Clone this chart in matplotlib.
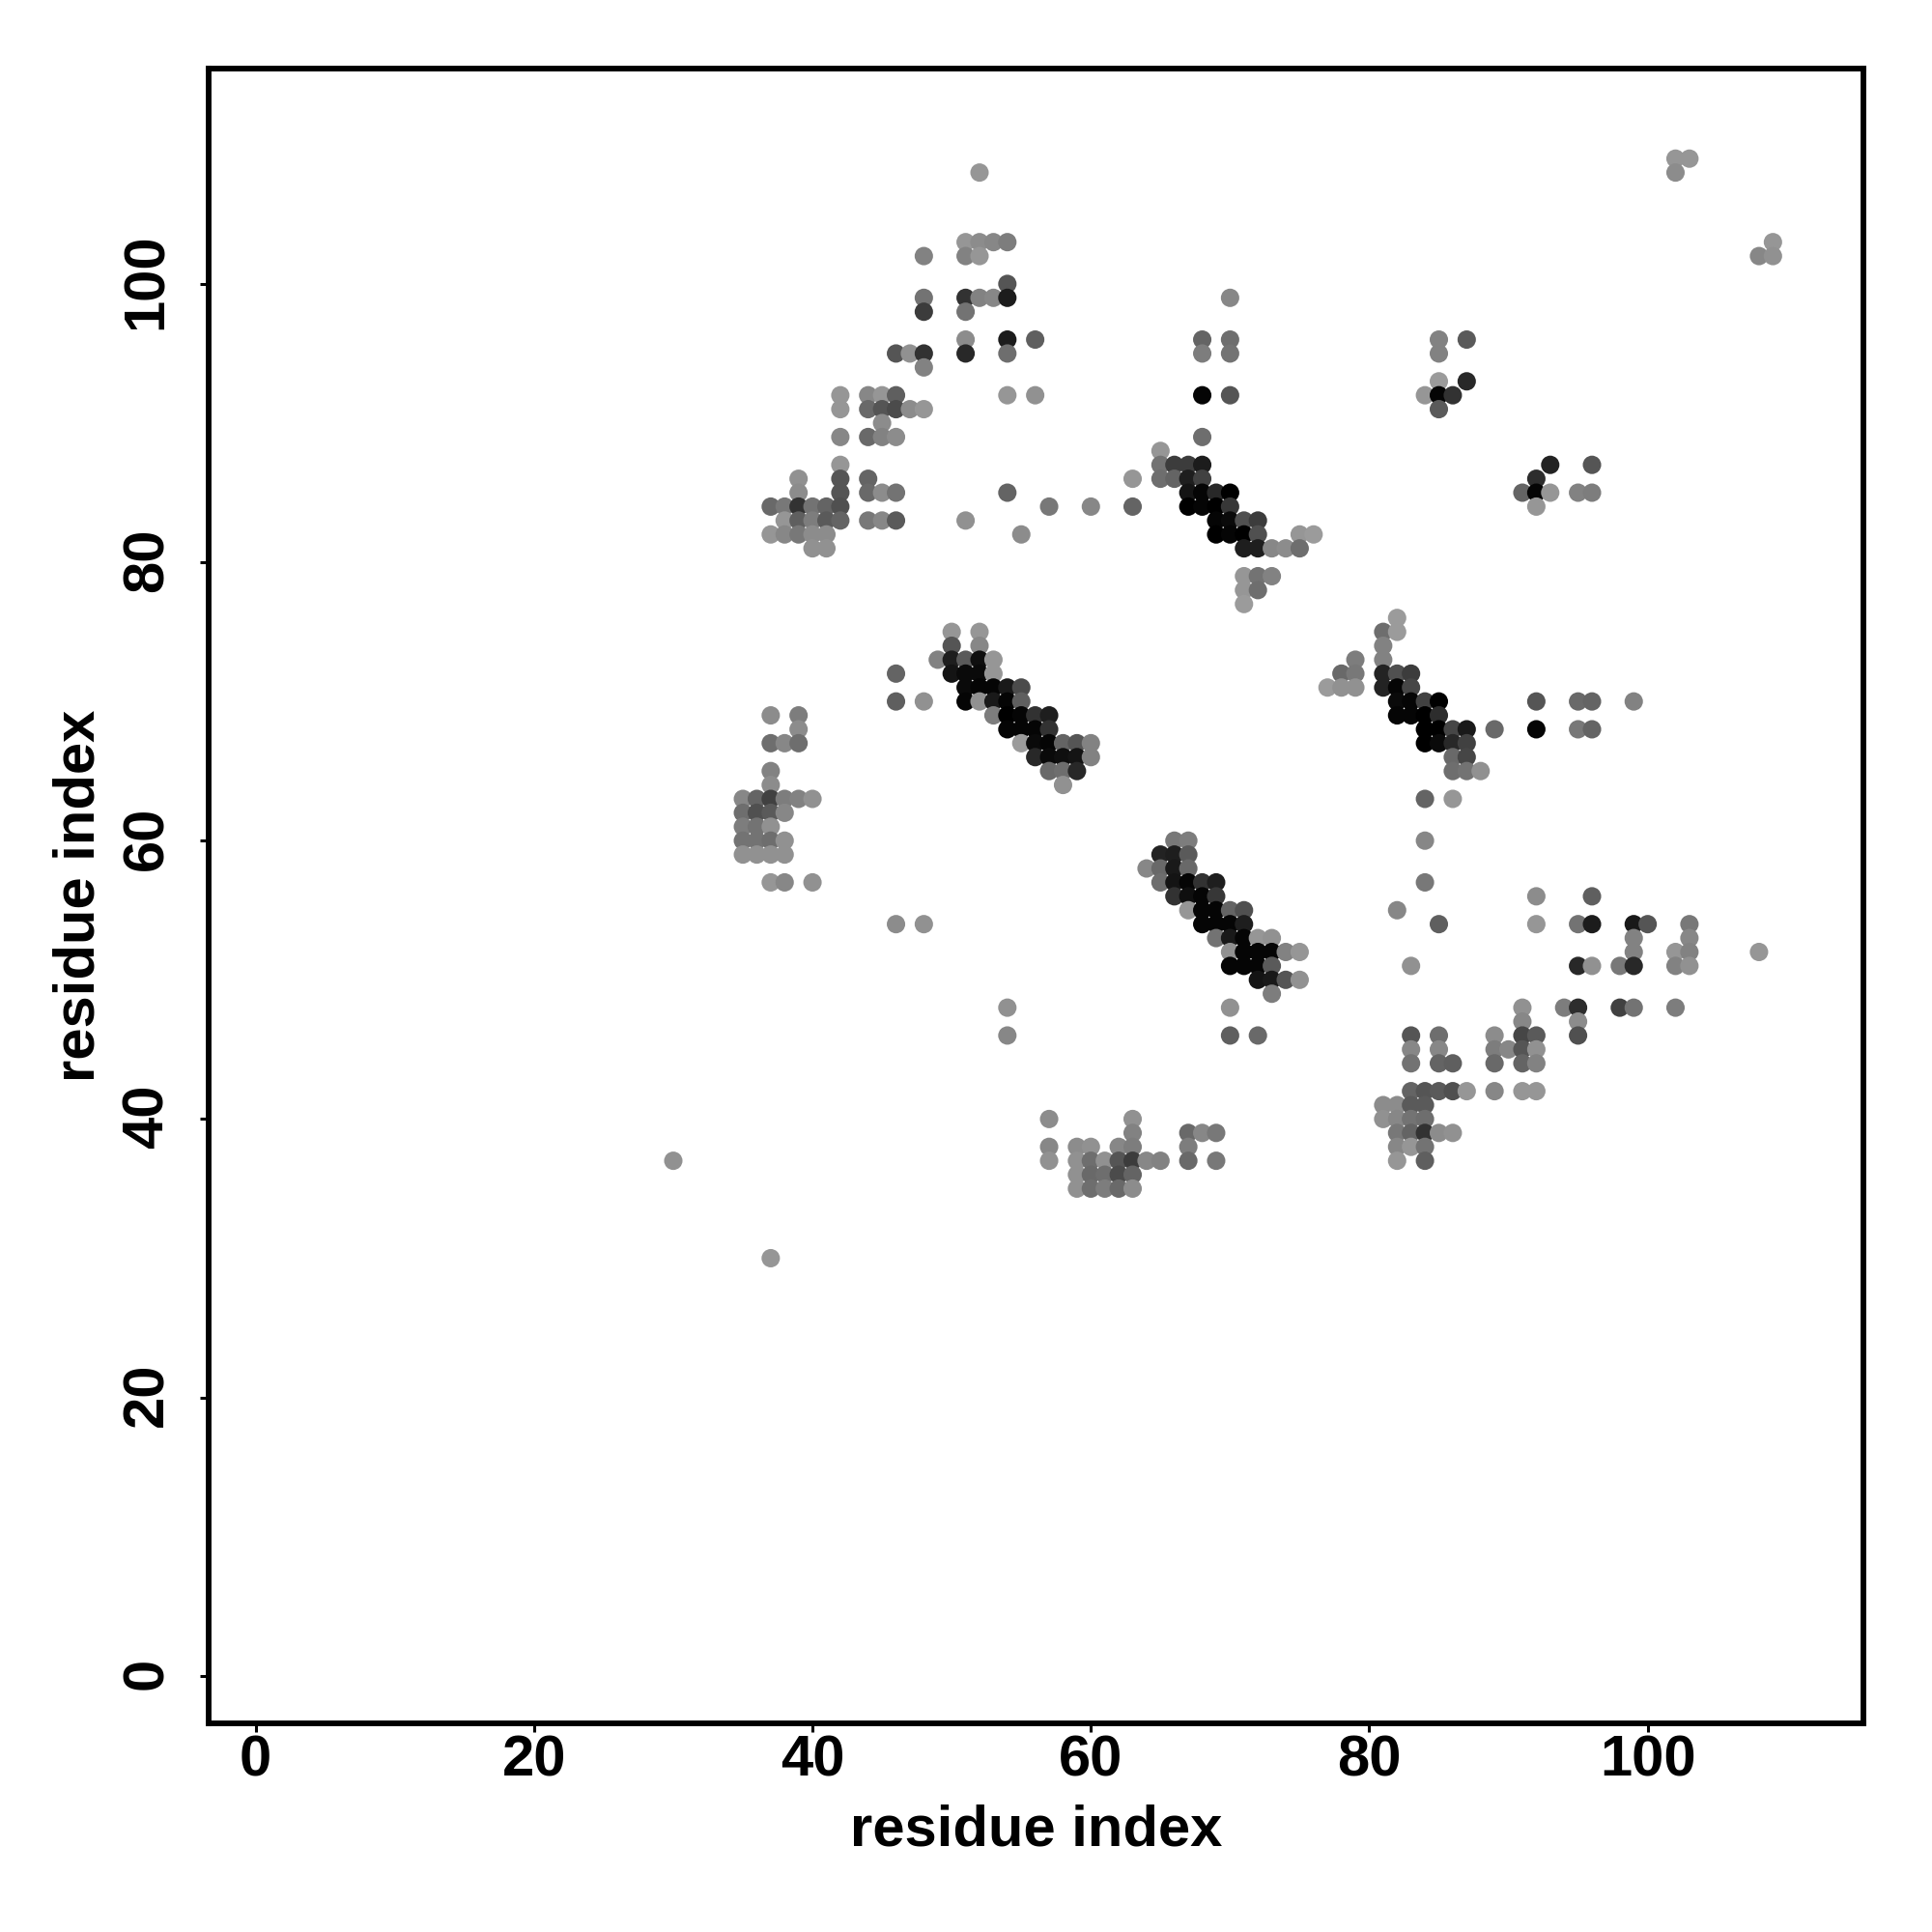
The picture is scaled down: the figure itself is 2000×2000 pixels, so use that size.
import matplotlib
matplotlib.use("Agg")
import matplotlib.pyplot as plt
from matplotlib.transforms import ScaledTranslation

plt.rcParams['font.family'] = ['Liberation Sans', 'DejaVu Sans']
plt.rcParams['font.weight'] = 'bold'

# contacts, one line per residue row (top of the map first)
res_x = [
    52,
    102, 103,
    102,
    51, 52, 53, 54, 109,
    48, 51, 52, 108, 109,
    54,
    48, 51, 52, 53, 54, 70,
    48, 51,
    51, 54, 56, 68, 70, 85, 87,
    46, 47, 48, 51, 54, 68, 70, 85,
    48,
    85, 87,
    42, 44, 45, 46, 54, 56, 68, 70, 84, 85, 86,
    42, 44, 45, 46, 47, 48, 85,
    45,
    42, 44, 45, 46, 68,
    65,
    42, 65, 66, 67, 68, 93, 96,
    39, 42, 44, 63, 65, 66, 67, 68, 92,
    39, 42, 44, 45, 46, 54, 67, 68, 69, 70, 91, 92, 93, 95, 96,
    37, 38, 39, 40, 41, 42, 57, 60, 63, 67, 68, 69, 70, 92,
    38, 39, 40, 41, 42, 44, 45, 46, 51, 69, 70, 71, 72,
    37, 38, 39, 40, 41, 55, 69, 70, 71, 72, 75, 76,
    40, 41, 71, 72, 73, 74, 75,
    71, 72, 73,
    71, 72,
    71,
    82,
    50, 52, 81, 82,
    50, 52, 81,
    49, 50, 51, 52, 53, 79, 81,
    46, 50, 51, 52, 53, 78, 79, 81, 82, 83,
    51, 52, 53, 54, 55, 77, 78, 79, 81, 82, 83,
    46, 48, 51, 52, 53, 54, 55, 82, 83, 84, 85, 92, 95, 96, 99,
    37, 39, 53, 54, 55, 56, 57, 82, 83, 84, 85,
    39, 54, 55, 56, 57, 84, 85, 86, 87, 89, 92, 95, 96,
    37, 38, 39, 55, 56, 57, 58, 59, 60, 84, 85, 86, 87,
    56, 57, 58, 59, 60, 86, 87,
    37, 57, 58, 59, 86, 87, 88,
    37, 58,
    35, 36, 37, 38, 39, 40, 84, 86,
    35, 36, 37, 38,
    35, 36, 37,
    35, 36, 37, 38, 66, 67, 84,
    35, 36, 37, 38, 65, 66, 67,
    64, 65, 66, 67,
    37, 38, 40, 65, 66, 67, 68, 69, 84,
    66, 67, 68, 69, 92, 96,
    67, 68, 69, 70, 71, 82,
    46, 48, 68, 69, 70, 71, 85, 92, 95, 96, 99, 100, 103,
    69, 70, 71, 72, 73, 99, 103,
    70, 71, 72, 73, 74, 75, 99, 102, 103, 108,
    70, 71, 72, 73, 83, 95, 96, 98, 99, 102, 103,
    72, 73, 74, 75,
    73,
    54, 70, 91, 94, 95, 98, 99, 102,
    91, 95,
    54, 70, 72, 83, 85, 89, 91, 92, 95,
    83, 85, 89, 90, 91, 92,
    83, 85, 86, 89, 91, 92,
    83, 84, 85, 86, 87, 89, 91, 92,
    81, 82, 83, 84,
    57, 63, 81, 82, 83, 84,
    63, 67, 68, 69, 82, 83, 84, 85, 86,
    57, 59, 60, 62, 63, 67, 82, 83, 84,
    30, 57, 59, 60, 61, 62, 63, 64, 65, 67, 69, 82, 84,
    59, 60, 61, 62, 63,
    59, 60, 61, 62, 63,
    37,
]

res_y = [
    108,
    109, 109,
    108,
    103, 103, 103, 103, 103,
    102, 102, 102, 102, 102,
    100,
    99, 99, 99, 99, 99, 99,
    98, 98,
    96, 96, 96, 96, 96, 96, 96,
    95, 95, 95, 95, 95, 95, 95, 95,
    94,
    93, 93,
    92, 92, 92, 92, 92, 92, 92, 92, 92, 92, 92,
    91, 91, 91, 91, 91, 91, 91,
    90,
    89, 89, 89, 89, 89,
    88,
    87, 87, 87, 87, 87, 87, 87,
    86, 86, 86, 86, 86, 86, 86, 86, 86,
    85, 85, 85, 85, 85, 85, 85, 85, 85, 85, 85, 85, 85, 85, 85,
    84, 84, 84, 84, 84, 84, 84, 84, 84, 84, 84, 84, 84, 84,
    83, 83, 83, 83, 83, 83, 83, 83, 83, 83, 83, 83, 83,
    82, 82, 82, 82, 82, 82, 82, 82, 82, 82, 82, 82,
    81, 81, 81, 81, 81, 81, 81,
    79, 79, 79,
    78, 78,
    77,
    76,
    75, 75, 75, 75,
    74, 74, 74,
    73, 73, 73, 73, 73, 73, 73,
    72, 72, 72, 72, 72, 72, 72, 72, 72, 72,
    71, 71, 71, 71, 71, 71, 71, 71, 71, 71, 71,
    70, 70, 70, 70, 70, 70, 70, 70, 70, 70, 70, 70, 70, 70, 70,
    69, 69, 69, 69, 69, 69, 69, 69, 69, 69, 69,
    68, 68, 68, 68, 68, 68, 68, 68, 68, 68, 68, 68, 68,
    67, 67, 67, 67, 67, 67, 67, 67, 67, 67, 67, 67, 67,
    66, 66, 66, 66, 66, 66, 66,
    65, 65, 65, 65, 65, 65, 65,
    64, 64,
    63, 63, 63, 63, 63, 63, 63, 63,
    62, 62, 62, 62,
    61, 61, 61,
    60, 60, 60, 60, 60, 60, 60,
    59, 59, 59, 59, 59, 59, 59,
    58, 58, 58, 58,
    57, 57, 57, 57, 57, 57, 57, 57, 57,
    56, 56, 56, 56, 56, 56,
    55, 55, 55, 55, 55, 55,
    54, 54, 54, 54, 54, 54, 54, 54, 54, 54, 54, 54, 54,
    53, 53, 53, 53, 53, 53, 53,
    52, 52, 52, 52, 52, 52, 52, 52, 52, 52,
    51, 51, 51, 51, 51, 51, 51, 51, 51, 51, 51,
    50, 50, 50, 50,
    49,
    48, 48, 48, 48, 48, 48, 48, 48,
    47, 47,
    46, 46, 46, 46, 46, 46, 46, 46, 46,
    45, 45, 45, 45, 45, 45,
    44, 44, 44, 44, 44, 44,
    42, 42, 42, 42, 42, 42, 42, 42,
    41, 41, 41, 41,
    40, 40, 40, 40, 40, 40,
    39, 39, 39, 39, 39, 39, 39, 39, 39,
    38, 38, 38, 38, 38, 38, 38, 38, 38,
    37, 37, 37, 37, 37, 37, 37, 37, 37, 37, 37, 37, 37,
    36, 36, 36, 36, 36,
    35, 35, 35, 35, 35,
    30,
]

# grey level of each contact, 0 black to 255 white
grey_level = [
    150,
    150, 150,
    140,
    150, 140, 135, 125, 150,
    130, 130, 150, 135, 145,
    85,
    115, 50, 130, 135, 28, 135,
    60, 115,
    140, 28, 95, 100, 110, 130, 90,
    85, 145, 50, 40, 110, 125, 115, 130,
    130,
    155, 40,
    150, 135, 150, 95, 150, 145, 5, 85, 150, 5, 50,
    150, 105, 85, 75, 140, 150, 90,
    140,
    135, 105, 130, 140, 110,
    150,
    150, 115, 60, 60, 28, 35, 85,
    145, 85, 100, 150, 110, 100, 30, 65, 45,
    140, 85, 105, 140, 115, 100, 20, 5, 40, 0, 100, 5, 150, 130, 125,
    105, 120, 50, 115, 100, 80, 120, 135, 100, 0, 5, 0, 55, 150,
    150, 95, 125, 90, 100, 120, 135, 90, 145, 5, 10, 80, 60,
    150, 135, 120, 140, 140, 140, 0, 5, 0, 80, 150, 155,
    145, 145, 30, 30, 135, 140, 110,
    150, 115, 130,
    150, 110,
    155,
    155,
    150, 150, 110, 155,
    85, 135, 130,
    130, 30, 90, 15, 150, 125, 130,
    100, 20, 10, 10, 150, 105, 120, 35, 80, 60,
    10, 5, 5, 25, 75, 155, 145, 145, 35, 5, 70,
    95, 145, 5, 145, 25, 5, 95, 10, 5, 65, 0, 85, 105, 100, 130,
    140, 125, 125, 0, 5, 50, 30, 5, 5, 0, 45,
    140, 5, 5, 5, 50, 0, 0, 70, 25, 105, 5, 120, 100,
    110, 135, 110, 155, 10, 5, 100, 85, 130, 0, 10, 40, 65,
    40, 10, 15, 20, 130, 105, 70,
    130, 105, 110, 40, 110, 115, 145,
    140, 145,
    135, 100, 65, 125, 130, 145, 100, 150,
    110, 80, 90, 135,
    125, 115, 145,
    115, 115, 110, 145, 120, 125, 135,
    145, 145, 145, 145, 35, 30, 90,
    135, 105, 25, 105,
    150, 135, 145, 110, 20, 5, 50, 30, 120,
    50, 15, 5, 55, 140, 95,
    150, 5, 5, 100, 80, 135,
    140, 145, 5, 5, 5, 30, 95, 150, 115, 28, 25, 85, 120,
    115, 25, 5, 150, 145, 130, 135,
    145, 5, 5, 5, 130, 150, 130, 150, 130, 150,
    5, 5, 5, 90, 145, 40, 145, 120, 40, 130, 145,
    20, 25, 85, 145,
    125,
    145, 145, 145, 125, 45, 65, 115, 125,
    135, 140,
    135, 95, 105, 85, 110, 140, 70, 90, 80,
    135, 135, 125, 135, 85, 145,
    115, 100, 95, 105, 100, 130,
    100, 85, 90, 80, 150, 135, 150, 150,
    140, 140, 90, 90,
    140, 145, 145, 135, 115, 110,
    130, 105, 135, 120, 120, 100, 50, 140, 145,
    135, 140, 145, 135, 125, 125, 135, 150, 115,
    145, 145, 145, 110, 145, 85, 60, 135, 130, 105, 120, 150, 95,
    145, 105, 110, 75, 100,
    145, 110, 125, 105, 140,
    150,
]

x_ticks = [0, 20, 40, 60, 80, 100]
y_ticks = [0, 20, 40, 60, 80, 100]
x_label = 'residue index'
y_label = 'residue index'

fig = plt.figure(figsize=(10, 10), dpi=200)
ax = fig.add_axes([0.108, 0.108, 0.8565, 0.8565])

colours = [(g / 255, g / 255, g / 255) for g in grey_level]
ax.scatter(res_x, res_y, c=colours, s=47, linewidths=0, zorder=3)

ax.set_xlim(-3.38, 115.5)
ax.set_ylim(-3.42, 115.47)

ax.set_xticks(x_ticks)
ax.set_yticks(y_ticks)
ax.tick_params(axis='x', length=3.2, width=1.1, labelsize=21.5, pad=1)
ax.tick_params(axis='y', length=3.2, width=1.1, labelsize=21.5, pad=9.7)
# nudge the rotated labels so they sit centred on their ticks
nudge = ScaledTranslation(0, 1 / 72, fig.dpi_scale_trans)
for t in ax.get_yticklabels():
    t.set_rotation(90)
    t.set_va('center')
    t.set_transform(t.get_transform() + nudge)

for s in ax.spines.values():
    s.set_linewidth(2.1)

ax.set_xlabel(x_label, fontsize=21.5, fontweight='bold')
ax.set_ylabel(y_label, fontsize=21.5, fontweight='bold')
ax.xaxis.set_label_coords(0.5, -0.049)
ax.yaxis.set_label_coords(-0.062, 0.5)

fig.savefig('out.png', dpi=200)
